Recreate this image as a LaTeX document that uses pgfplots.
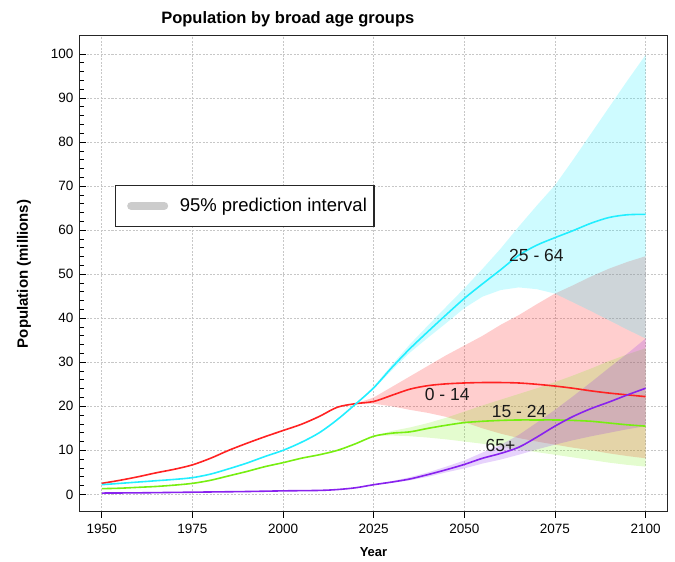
\documentclass[border=0pt]{standalone}
\usepackage{fontspec}
\setmainfont{Liberation Sans}
\usepackage{pgfplots}
\pgfplotsset{compat=1.18}
\usepgfplotslibrary{fillbetween}
\usepackage{pgfplotstable}

\definecolor{cline}{HTML}{22EEFF}
\definecolor{rline}{HTML}{FF2222}
\definecolor{gline}{HTML}{77EE11}
\definecolor{pline}{HTML}{8822EE}

% 0-14
\pgfplotstableread{
year y
1950 2.5
1955 3.2
1960 4.0
1965 4.9
1970 5.7
1975 6.7
1980 8.2
1985 10.0
1990 11.6
1995 13.1
2000 14.5
2005 15.9
2010 17.7
2015 19.8
2020 20.6
2025 21.1
2030 22.5
2035 23.9
2040 24.7
2045 25.1
2050 25.3
2055 25.4
2060 25.4
2065 25.3
2070 25.0
2075 24.6
2080 24.1
2085 23.5
2090 23.0
2095 22.6
2100 22.2
}\redline
% 25-64
\pgfplotstableread{
year y
1950 2.2
1955 2.5
1960 2.8
1965 3.1
1970 3.4
1975 3.8
1980 4.6
1985 5.8
1990 7.1
1995 8.6
2000 10.0
2005 11.8
2010 14.0
2015 17.0
2020 20.5
2025 24.2
2030 28.8
2035 33.1
2040 37.0
2045 40.8
2050 44.5
2055 47.8
2060 51.0
2065 54.3
2070 56.6
2075 58.3
2080 59.9
2085 61.6
2090 62.9
2095 63.5
2100 63.6
}\cyanline
% 15-24
\pgfplotstableread{
year y
1950 1.3
1955 1.4
1960 1.6
1965 1.8
1970 2.1
1975 2.5
1980 3.2
1985 4.2
1990 5.2
1995 6.3
2000 7.2
2005 8.2
2010 9.0
2015 10.0
2020 11.5
2025 13.2
2030 13.9
2035 14.2
2040 15.0
2045 15.7
2050 16.3
2055 16.6
2060 16.8
2065 16.9
2070 16.9
2075 16.9
2080 16.8
2085 16.6
2090 16.2
2095 15.8
2100 15.5
}\greenline
% 65+
\pgfplotstableread{
year y
1950 0.3
1960 0.35
1970 0.45
1980 0.55
1990 0.65
2000 0.8
2010 0.9
2015 1.1
2020 1.5
2025 2.2
2030 2.8
2035 3.5
2040 4.5
2045 5.6
2050 6.8
2055 8.2
2060 9.3
2065 10.7
2070 13.0
2075 15.5
2080 17.7
2085 19.5
2090 21.0
2095 22.6
2100 24.1
}\purpleline

\pgfplotstableread{
year lo hi
2020 20.5 20.5
2025 23.9 24.5
2030 28.2 29.4
2035 32.2 34.1
2040 35.6 38.4
2045 38.9 42.6
2050 42.3 46.8
2055 44.9 51.2
2060 46.4 55.8
2065 47.0 60.8
2070 46.6 65.6
2075 45.6 70.2
2080 43.6 76.0
2085 41.6 82.0
2090 39.5 88.0
2095 37.4 94.0
2100 35.4 99.8
}\cyanband

\pgfplotstableread{
year lo hi
2020 20.6 20.6
2025 20.6 22.0
2030 20.0 24.4
2035 19.2 26.8
2040 18.5 29.2
2045 17.6 31.6
2050 16.4 33.8
2055 15.0 36.0
2060 13.8 38.5
2065 12.8 40.7
2070 12.0 43.2
2075 11.3 45.6
2080 10.6 47.5
2085 10.0 49.5
2090 9.3 51.3
2095 8.7 52.8
2100 8.2 54.1
}\redband

\pgfplotstableread{
year lo hi
2025 13.2 13.2
2030 13.4 14.4
2035 13.2 15.2
2040 12.9 16.2
2045 12.5 17.4
2050 12.0 18.8
2055 11.5 20.2
2060 10.9 21.5
2065 10.2 22.8
2070 9.6 24.1
2075 9.0 25.5
2080 8.4 27.0
2085 7.8 28.6
2090 7.2 30.3
2095 6.7 31.8
2100 6.3 33.2
}\greenband

\pgfplotstableread{
year lo hi
2025 2.2 2.2
2030 2.6 3.0
2035 3.2 3.9
2040 4.0 5.0
2045 5.0 6.3
2050 5.9 7.7
2055 7.0 9.5
2060 7.9 11.2
2065 9.0 13.5
2070 10.2 16.3
2075 11.3 19.2
2080 12.3 22.3
2085 13.2 25.5
2090 14.0 28.8
2095 14.8 32.0
2100 15.5 35.4
}\purpleband

\begin{document}
\begin{tikzpicture}
\begin{axis}[
  name=ax, at={(0,0)}, anchor=south west,
  scale only axis, width=587pt, height=476pt,
  xmin=1944, xmax=2105.9, ymin=-4, ymax=104.1,
  xtick={1950,1975,2000,2025,2050,2075,2100},
  ytick={0,10,20,30,40,50,60,70,80,90,100},
  minor y tick num=4,
  xtick pos=bottom, ytick pos=left,
  xtick align=outside, ytick align=inside,
  major tick length=6pt, minor tick length=4pt,
  tick style={black, line width=0.8pt},
  grid=major,
  major grid style={dash pattern=on 2pt off 1.5pt, color=black!22, line width=0.6pt},
  axis line style={line width=1pt, black!85},
  /pgf/number format/assume math mode=true,
  /pgf/number format/1000 sep={},
  tick label style={font=\fontsize{13.5}{15}\selectfont},
  xticklabel style={yshift=-3pt},
  yticklabel style={xshift=-3pt},
  title={\bfseries Population by broad age groups},
  title style={font=\fontsize{16.5}{19}\selectfont, at={(0.354,1)}, anchor=south, yshift=-1pt},
  xlabel={\bfseries Year},
  xlabel style={font=\fontsize{13}{15}\selectfont, yshift=-7pt},
  ylabel={\bfseries Population (millions)},
  ylabel style={font=\fontsize{15}{17}\selectfont},
  ylabel shift=13pt,
  legend style={at={(rel axis cs:0.0596,0.599)}, anchor=south west,
    draw=black!85, line width=1.2pt, font=\fontsize{18.5}{20}\selectfont,
    inner xsep=5pt, inner ysep=11pt},
]
\addlegendimage{legend image code/.code={\draw[line width=8pt, line cap=round, color=black!20] (10pt,0pt) -- (43pt,0pt); \path (0pt,0pt) (56pt,0pt);}}
\addlegendentry{95\% prediction interval}

% bands
\addplot[draw=none, name path=rlo, forget plot] table[x=year, y=lo]{\redband};
\addplot[draw=none, name path=rhi, forget plot] table[x=year, y=hi]{\redband};
\addplot[fill=rline, fill opacity=0.22, draw=none, forget plot] fill between[of=rlo and rhi];

\addplot[draw=none, name path=glo, forget plot] table[x=year, y=lo]{\greenband};
\addplot[draw=none, name path=ghi, forget plot] table[x=year, y=hi]{\greenband};
\addplot[fill=gline, fill opacity=0.2, draw=none, forget plot] fill between[of=glo and ghi];

\addplot[draw=none, name path=clo, forget plot] table[x=year, y=lo]{\cyanband};
\addplot[draw=none, name path=chi, forget plot] table[x=year, y=hi]{\cyanband};
\addplot[fill=cline, fill opacity=0.22, draw=none, forget plot] fill between[of=clo and chi];

\addplot[draw=none, name path=plo, forget plot] table[x=year, y=lo]{\purpleband};
\addplot[draw=none, name path=phi, forget plot] table[x=year, y=hi]{\purpleband};
\addplot[fill=pline, fill opacity=0.2, draw=none, forget plot] fill between[of=plo and phi];

% lines
\addplot[rline, line width=1.6pt, smooth, forget plot] table[x=year, y=y]{\redline};
\addplot[cline, line width=1.6pt, smooth, forget plot] table[x=year, y=y]{\cyanline};
\addplot[gline, line width=1.6pt, smooth, forget plot] table[x=year, y=y]{\greenline};
\addplot[pline, line width=1.6pt, smooth, forget plot] table[x=year, y=y]{\purpleline};

\node[font=\fontsize{17.5}{20}\selectfont, text=black!90] at (axis cs:2069.9,54.3) {25 - 64};
\node[font=\fontsize{17.5}{20}\selectfont, text=black!90] at (axis cs:2045.3,22.7) {0 - 14};
\node[font=\fontsize{17.5}{20}\selectfont, text=black!90] at (axis cs:2065.1,18.8) {15 - 24};
\node[font=\fontsize{17.5}{20}\selectfont, text=black!90] at (axis cs:2060,11.0) {65+};
\end{axis}
\pgfresetboundingbox
\useasboundingbox (-80pt,-50pt) rectangle (595pt,512pt);
\end{tikzpicture}
\end{document}
